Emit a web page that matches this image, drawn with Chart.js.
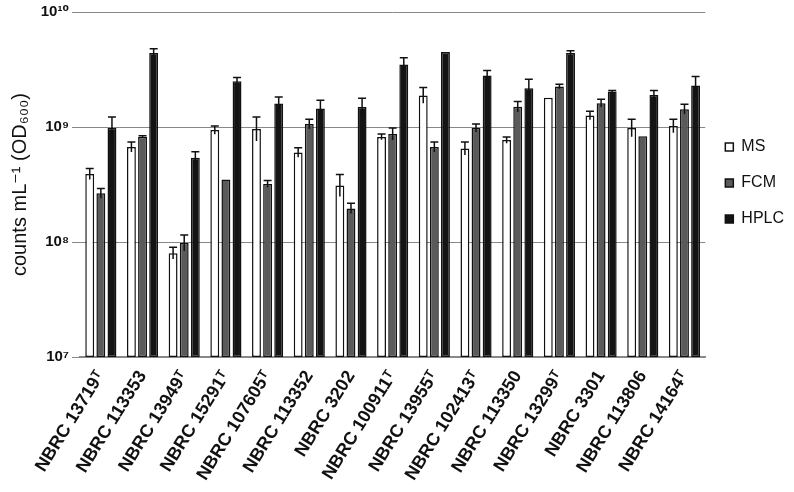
<!DOCTYPE html>
<html>
<head>
<meta charset="utf-8">
<script src="https://cdn.jsdelivr.net/npm/chart.js@4"></script>
<style>
  html, body { margin: 0; padding: 0; background: #fff; }
  #wrap { width: 794px; height: 492px; }
</style>
</head>
<body>
<div id="wrap"><canvas id="myChart" width="794" height="492"></canvas></div>
<script>
// strains on the x axis
let strains = ['NBRC 13719ᵀ', 'NBRC 113353', 'NBRC 13949ᵀ', 'NBRC 15291ᵀ', 'NBRC 107605ᵀ',
    'NBRC 113352', 'NBRC 3202', 'NBRC 100911ᵀ', 'NBRC 13955ᵀ', 'NBRC 102413ᵀ',
    'NBRC 113350', 'NBRC 13299ᵀ', 'NBRC 3301', 'NBRC 113806', 'NBRC 14164ᵀ'];

// counts per mL (OD600)
let msVals   = [3.9e8, 6.7e8, 8.0e7, 9.4e8, 9.6e8, 6.0e8, 3.1e8, 8.2e8, 1.88e9, 6.5e8, 7.7e8, 1.8e9, 1.26e9, 9.8e8, 1.02e9];
let fcmVals  = [2.65e8, 8.2e8, 9.8e7, 3.5e8, 3.2e8, 1.06e9, 1.96e8, 8.7e8, 6.7e8, 9.8e8, 1.5e9, 2.25e9, 1.61e9, 8.3e8, 1.43e9];
let hplcVals = [9.8e8, 4.4e9, 5.4e8, 2.5e9, 1.6e9, 1.45e9, 1.49e9, 3.5e9, 4.5e9, 2.8e9, 2.17e9, 4.4e9, 2.04e9, 1.9e9, 2.3e9];

// top of each error bar (null = no visible bar)
let msErr   = [4.35e8, 7.4e8, 9.0e7, 1.02e9, 1.22e9, 6.6e8, 3.86e8, 8.7e8, 2.2e9, 7.4e8, 8.2e8, null, 1.37e9, 1.17e9, 1.17e9];
let fcmErr  = [2.92e8, 8.4e8, 1.15e8, null, 3.42e8, 1.17e9, 2.17e8, 9.8e8, 7.4e8, 1.06e9, 1.67e9, 2.35e9, 1.74e9, null, 1.58e9];
let hplcErr = [1.22e9, 4.8e9, 6.1e8, 2.7e9, 1.82e9, 1.71e9, 1.78e9, 4.0e9, null, 3.1e9, 2.6e9, 4.6e9, 2.08e9, 2.08e9, 2.75e9];

let yTicks = [1e7, 1e8, 1e9, 1e10];
let tickText = {7: '10⁷', 8: '10⁸', 9: '10⁹', 10: '10¹⁰'};

let font = "'Liberation Sans', Arial, 'DejaVu Sans', sans-serif";

// draws the error bars from the y scale
let errorBars = {
    id: 'errorBars',
    afterDatasetsDraw(chart) {
        let c = chart.ctx;
        let y = chart.scales.y;
        chart.data.datasets.forEach(function(ds, i) {
            let meta = chart.getDatasetMeta(i);
            meta.data.forEach(function(bar, j) {
                let e = ds.err[j];
                if (e == null) return;
                let top = y.getPixelForValue(e);
                let bottom = bar.y + (bar.y - top);
                c.save();
                c.strokeStyle = '#111';
                c.lineWidth = 1.5;
                c.beginPath();
                c.moveTo(bar.x, bottom);
                c.lineTo(bar.x, top);
                c.moveTo(bar.x - 4, top);
                c.lineTo(bar.x + 4, top);
                c.stroke();
                c.restore();
            });
        });
    }
};

let ctx = document.getElementById('myChart').getContext('2d');
let chart = new Chart(ctx, {
    type: 'bar',
    data: {
        labels: strains,
        datasets: [
            {label: 'MS', data: msVals, err: msErr, backgroundColor: '#ffffff'},
            {label: 'FCM', data: fcmVals, err: fcmErr, backgroundColor: '#5a5a5a'},
            {label: 'HPLC', data: hplcVals, err: hplcErr, backgroundColor: '#141414'}
        ]
    },
    options: {
        responsive: false,
        animation: false,
        layout: {padding: {top: 0, right: 0, left: 0, bottom: 0}},
        datasets: {
            bar: {
                borderColor: '#111',
                borderWidth: 1.5,
                borderSkipped: false,
                categoryPercentage: 0.8,
                barPercentage: 0.8
            }
        },
        plugins: {
            legend: {
                position: 'right',
                align: 'start',
                // empty title only pushes the items down
                title: {display: true, text: ' ', font: {size: 10}, padding: {top: 107, bottom: 0}},
                labels: {
                    boxWidth: 8,
                    boxHeight: 8,
                    padding: 20,
                    color: '#111',
                    font: {family: font, size: 16}
                }
            },
            tooltip: {enabled: false}
        },
        scales: {
            y: {
                type: 'logarithmic',
                min: 1e7,
                max: 1e10,
                afterBuildTicks: function(s) {
                    s.ticks = yTicks.map(v => ({value: v}));
                },
                afterFit: function(s) { s.width = 80; },
                ticks: {
                    color: '#111',
                    font: {family: font, size: 15, weight: 'bold'},
                    padding: 3,
                    callback: function(v) { return tickText[Math.round(Math.log10(v))]; }
                },
                grid: {color: '#888', lineWidth: 1, tickLength: 8, drawTicks: true},
                border: {display: false},
                title: {
                    display: true,
                    text: 'counts mL⁻¹ (OD₆₀₀)',
                    color: '#111',
                    font: {family: font, size: 20},
                    padding: {top: 8, bottom: 0}
                }
            },
            x: {
                afterFit: function(s) { s.height = 135; },
                ticks: {
                    minRotation: 58,
                    maxRotation: 58,
                    autoSkip: false,
                    color: '#111',
                    font: {family: font, size: 18, weight: 'bold'},
                    padding: 2
                },
                grid: {display: false},
                border: {display: true, color: '#888', width: 1.5}
            }
        }
    },
    plugins: [errorBars]
});
</script>
</body>
</html>
